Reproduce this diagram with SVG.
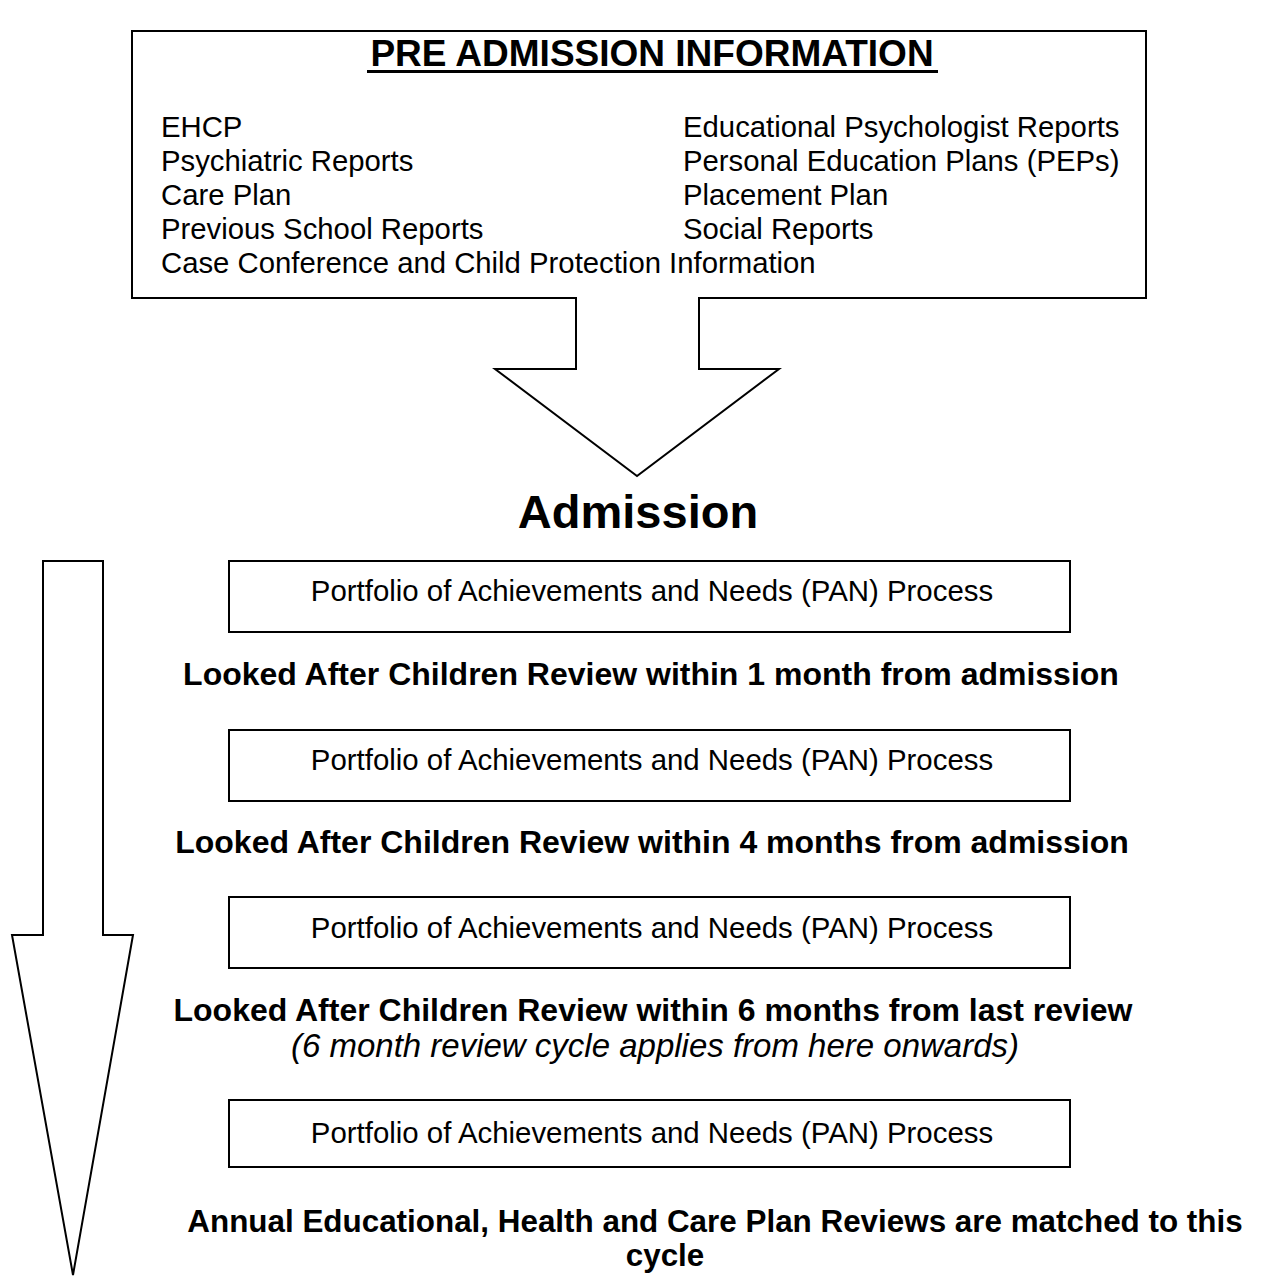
<svg xmlns="http://www.w3.org/2000/svg" width="1268" height="1277" viewBox="0 0 1268 1277">
<style>
.shape{fill:#fff;stroke:#000;stroke-width:2;stroke-linejoin:miter}
.t{font-family:"Liberation Sans",Arial,sans-serif;fill:#000}
.title{font-size:37px;font-weight:bold}
.item{font-size:29.3px}
.pan{font-size:29.4px}
.lbl{font-size:32px;font-weight:bold}
.big{font-size:47px;font-weight:bold}
.it{font-size:33px;font-style:italic}
</style>
<rect width="1268" height="1277" fill="#fff"/>
<g id="connectors">
<polygon id="side-arrow" class="shape" points="43,561 103,561 103,935 133,935 73,1275 12,935 43,935"/>
</g>
<g id="pre-admission">
<polygon class="shape" points="132,31 1146,31 1146,298 699,298 699,369 779,369 637,476 495,369 576,369 576,298 132,298"/>
<text class="t title" x="652" y="66" text-anchor="middle">PRE ADMISSION INFORMATION</text>
<rect x="367" y="70" width="571" height="3" fill="#000"/>
<text class="t item" x="161" y="137">EHCP</text>
<text class="t item" x="161" y="171">Psychiatric Reports</text>
<text class="t item" x="161" y="205">Care Plan</text>
<text class="t item" x="161" y="239">Previous School Reports</text>
<text class="t item" x="161" y="273">Case Conference and Child Protection Information</text>
<text class="t item" x="683" y="137">Educational Psychologist Reports</text>
<text class="t item" x="683" y="171">Personal Education Plans (PEPs)</text>
<text class="t item" x="683" y="205">Placement Plan</text>
<text class="t item" x="683" y="239">Social Reports</text>
</g>
<g id="admission">
<text class="t big" x="638" y="528" text-anchor="middle">Admission</text>
</g>
<g id="pan1">
<rect class="shape" x="229" y="561" width="841" height="71"/>
<text class="t pan" x="652" y="601" text-anchor="middle">Portfolio of Achievements and Needs (PAN) Process</text>
</g>
<g id="review1">
<text class="t lbl" x="651" y="685" text-anchor="middle">Looked After Children Review within 1 month from admission</text>
</g>
<g id="pan2">
<rect class="shape" x="229" y="730" width="841" height="71"/>
<text class="t pan" x="652" y="770" text-anchor="middle">Portfolio of Achievements and Needs (PAN) Process</text>
</g>
<g id="review2">
<text class="t lbl" x="652" y="853" text-anchor="middle">Looked After Children Review within 4 months from admission</text>
</g>
<g id="pan3">
<rect class="shape" x="229" y="897" width="841" height="71"/>
<text class="t pan" x="652" y="938" text-anchor="middle">Portfolio of Achievements and Needs (PAN) Process</text>
</g>
<g id="review3">
<text class="t lbl" x="653" y="1021" text-anchor="middle">Looked After Children Review within 6 months from last review</text>
<text class="t it" x="655" y="1057" text-anchor="middle">(6 month review cycle applies from here onwards)</text>
</g>
<g id="pan4">
<rect class="shape" x="229" y="1100" width="841" height="67"/>
<text class="t pan" x="652" y="1143" text-anchor="middle">Portfolio of Achievements and Needs (PAN) Process</text>
</g>
<g id="annual">
<text class="t lbl" x="715" y="1232" text-anchor="middle" style="font-size:31.4px">Annual Educational, Health and Care Plan Reviews are matched to this</text>
<text class="t lbl" x="665" y="1266" text-anchor="middle" style="font-size:31.4px">cycle</text>
</g>
</svg>
